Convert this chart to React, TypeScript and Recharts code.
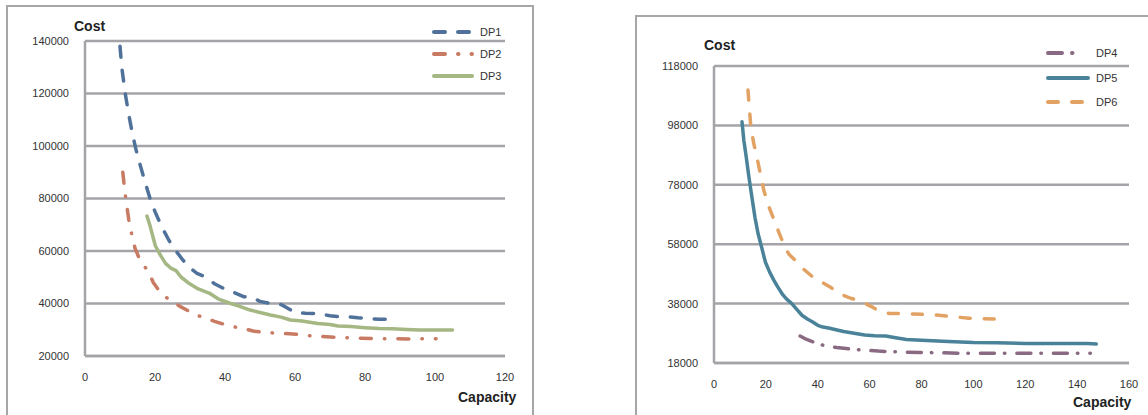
import { LineChart, Line, XAxis, YAxis, CartesianGrid } from "recharts";

// capacity / cost pairs
const DP1: [number, number][] = [
  [10, 138000], [10.5, 130000], [11.5, 120000], [12.5, 112000], [13.5, 105000],
  [14.5, 99000], [15.5, 94000], [17, 87000], [18.7, 79500], [20, 75000],
  [22, 69000], [24, 64000], [26, 60000], [28, 56500], [30, 53500],
  [32, 51500], [34.6, 50000], [37, 47500], [39.5, 45800], [42, 44500],
  [45.3, 42600], [48, 42200], [50, 40800], [53, 40000], [56, 39600],
  [58.8, 37500], [60, 36500], [63, 36300], [66.5, 36200], [70, 35300],
  [72.3, 35000], [75, 35000], [78, 34600], [80, 34400], [84, 34000], [88, 34000],
];

const DP2: [number, number][] = [
  [10.8, 90000], [11.2, 85000], [11.6, 80500], [12.5, 72000], [13.3, 66700],
  [14.3, 61000], [15.3, 57800], [16.5, 55000], [18.2, 52000], [19.5, 48000],
  [21.1, 45000], [23, 42500], [25, 40700], [27, 39000], [29.8, 37000],
  [32, 35500], [34.6, 34400], [37, 33200], [40.4, 31800], [43, 31000],
  [45.2, 30500], [48, 29500], [51, 29000], [55, 28700], [60.7, 28300],
  [65, 27600], [72.3, 27100], [78, 26800], [84, 26600], [92, 26500], [100.3, 26600],
];

const DP3: [number, number][] = [
  [17.7, 73300], [18.5, 70000], [20.1, 62000], [21.5, 58500], [23, 55300],
  [24.5, 53500], [26, 52500], [27.5, 50000], [29.8, 47600], [32, 45800],
  [35.6, 43900], [38, 41800], [41.4, 40100], [44, 39000], [47.2, 37500],
  [50, 36600], [53, 35600], [56, 34800], [58.7, 33700], [62, 33300],
  [66.5, 32400], [70, 32000], [72.3, 31400], [76, 31200], [80, 30800],
  [84, 30500], [87.7, 30400], [92, 30100], [95.4, 29900], [100, 29900], [105, 29900],
];

const DP4: [number, number][] = [
  [33.2, 27100], [35.5, 26000], [37.9, 25200], [42, 24000], [47.3, 23200],
  [55, 22500], [63.4, 22000], [72, 21700], [83.5, 21500], [95, 21300],
  [103.6, 21300], [120, 21300], [145.1, 21300],
];

const DP5: [number, number][] = [
  [10.8, 99200], [11.5, 93000], [12.4, 87500], [13.4, 81000], [14.4, 75100],
  [15.8, 67000], [17, 61500], [18.5, 56500], [19.8, 52000], [21.5, 48500],
  [23, 46000], [24.5, 43700], [26.5, 41000], [28, 39500], [29.9, 38100],
  [32, 36000], [34, 34000], [36, 32800], [37.9, 31900], [40, 30700],
  [42, 30100], [44.6, 29700], [47, 29200], [50, 28600], [54, 28000],
  [58.1, 27400], [62, 27200], [66.2, 27100], [70, 26500], [74.2, 25900],
  [80, 25700], [90.3, 25200], [100, 24900], [109.1, 24800], [120, 24600],
  [130, 24600], [144, 24600], [147.4, 24400],
];

const DP6: [number, number][] = [
  [13.1, 109900], [13.6, 104000], [14.2, 97600], [15.3, 92000], [16.5, 87500],
  [17.8, 82000], [19.2, 76200], [21, 71000], [23.2, 66100], [25, 62000],
  [27.2, 57200], [29, 54500], [31.2, 52700], [34, 50000], [37.9, 47100],
  [41, 45500], [44.6, 43700], [48, 41500], [52.7, 39800], [56, 39000],
  [60.7, 37000], [63, 35800], [67.4, 34700], [75, 34600], [84.8, 34200],
  [92, 33600], [98.2, 33100], [104, 32900], [110.3, 32800],
];

const leftCapacityTicks = [0, 20, 40, 60, 80, 100, 120];
const leftCostTicks = [20000, 40000, 60000, 80000, 100000, 120000, 140000];
const rightCapacityTicks = [0, 20, 40, 60, 80, 100, 120, 140, 160];
const rightCostTicks = [18000, 38000, 58000, 78000, 98000, 118000];

const FONT = "'Liberation Sans', Arial, sans-serif";
const GRID = "#a4a4a8";
const TEXT = "#333";

interface Series {
  name: string;
  points: [number, number][];
  color: string;
  dash?: string;
  legendEnd?: number;
}

const leftSeries: Series[] = [
  { name: "DP1", points: DP1, color: "#50729a", dash: "11 13" },
  { name: "DP2", points: DP2, color: "#c97a62", dash: "11 13 0.5 13" },
  { name: "DP3", points: DP3, color: "#a5b782" },
];

const rightSeries: Series[] = [
  { name: "DP4", points: DP4, color: "#8a6a82", dash: "14 10 0.5 12", legendEnd: 30 },
  { name: "DP5", points: DP5, color: "#4a8399" },
  { name: "DP6", points: DP6, color: "#e2a263", dash: "10 14" },
];

const toRows = (pts: [number, number][]) =>
  pts.map(([capacity, cost]) => ({ capacity, cost }));

interface PanelProps {
  left: number;
  width: number;
  margin: { top: number; right: number; bottom: number; left: number };
  yWidth: number;
  xDomain: [number, number];
  xTicks: number[];
  yDomain: [number, number];
  yTicks: number[];
  series: Series[];
}

function Panel(p: PanelProps) {
  return (
    <div style={{ position: "absolute", left: p.left, top: 0 }}>
      <LineChart width={p.width} height={415} margin={p.margin}>
        <CartesianGrid vertical={false} stroke={GRID} strokeWidth={2.5} />
        <XAxis
          type="number"
          dataKey="capacity"
          domain={p.xDomain}
          ticks={p.xTicks}
          allowDuplicatedCategory={false}
          height={30}
          tickSize={0}
          tickMargin={17}
          axisLine={{ stroke: GRID, strokeWidth: 2.5 }}
          tick={{ fill: TEXT, fontSize: 11, fontFamily: FONT }}
        />
        <YAxis
          type="number"
          dataKey="cost"
          domain={p.yDomain}
          ticks={p.yTicks}
          width={p.yWidth}
          tickSize={0}
          tickMargin={16}
          axisLine={{ stroke: GRID, strokeWidth: 2.5 }}
          tick={{ fill: TEXT, fontSize: 11, fontFamily: FONT }}
        />
        {p.series.map((s) => (
          <Line
            key={s.name}
            name={s.name}
            data={toRows(s.points)}
            dataKey="cost"
            type="linear"
            stroke={s.color}
            strokeWidth={3.5}
            strokeDasharray={s.dash}
            strokeLinecap="round"
            strokeLinejoin="round"
            dot={false}
            activeDot={false}
            isAnimationActive={false}
          />
        ))}
      </LineChart>
    </div>
  );
}

function LegendBox({ x, y, gap, lineW, series }: { x: number; y: number; gap: number; lineW: number; series: Series[] }) {
  return (
    <div style={{ position: "absolute", left: x, top: y }}>
      {series.map((s, i) => (
        <div
          key={s.name}
          style={{ position: "absolute", top: i * gap - 8, left: 0, display: "flex", alignItems: "center", height: 16 }}
        >
          <svg width={lineW} height={8}>
            <line
              x1={2}
              y1={4}
              x2={s.legendEnd ?? lineW - 2}
              y2={4}
              stroke={s.color}
              strokeWidth={4}
              strokeLinecap="round"
              strokeDasharray={s.dash}
            />
          </svg>
          <span style={{ marginLeft: 6, fontSize: 11, fontFamily: FONT, color: TEXT, whiteSpace: "nowrap" }}>{s.name}</span>
        </div>
      ))}
    </div>
  );
}

const label = (text: string, left: number, top: number) => (
  <div
    style={{
      position: "absolute",
      left,
      top,
      fontSize: 14,
      fontWeight: 700,
      fontFamily: FONT,
      color: "#222",
      lineHeight: "16px",
      whiteSpace: "nowrap",
    }}
  >
    {text}
  </div>
);

export default function App() {
  return (
    <div
      style={{
        position: "absolute",
        left: 0,
        top: 0,
        width: 1148,
        height: 415,
        overflow: "hidden",
        background: "#fff",
      }}
    >
      <div style={{ position: "absolute", left: 6, top: 5, width: 524, height: 430, border: "2px solid #a6a6a6" }} />
      <div style={{ position: "absolute", left: 635, top: 15, width: 600, height: 430, border: "2px solid #a6a6a6" }} />

      <Panel
        left={0}
        width={540}
        margin={{ top: 41, right: 35, bottom: 29, left: 0 }}
        yWidth={85}
        xDomain={[0, 120]}
        xTicks={leftCapacityTicks}
        yDomain={[20000, 140000]}
        yTicks={leftCostTicks}
        series={leftSeries}
      />
      <Panel
        left={600}
        width={548}
        margin={{ top: 66, right: 19, bottom: 22, left: 0 }}
        yWidth={114}
        xDomain={[0, 160]}
        xTicks={rightCapacityTicks}
        yDomain={[18000, 118000]}
        yTicks={rightCostTicks}
        series={rightSeries}
      />

      {label("Cost", 74, 18)}
      {label("Capacity", 458, 389)}
      {label("Cost", 704, 37)}
      {label("Capacity", 1073, 394)}

      <LegendBox x={432} y={32} gap={22} lineW={42} series={leftSeries} />
      <LegendBox x={1046} y={53} gap={24.5} lineW={44} series={rightSeries} />
    </div>
  );
}
